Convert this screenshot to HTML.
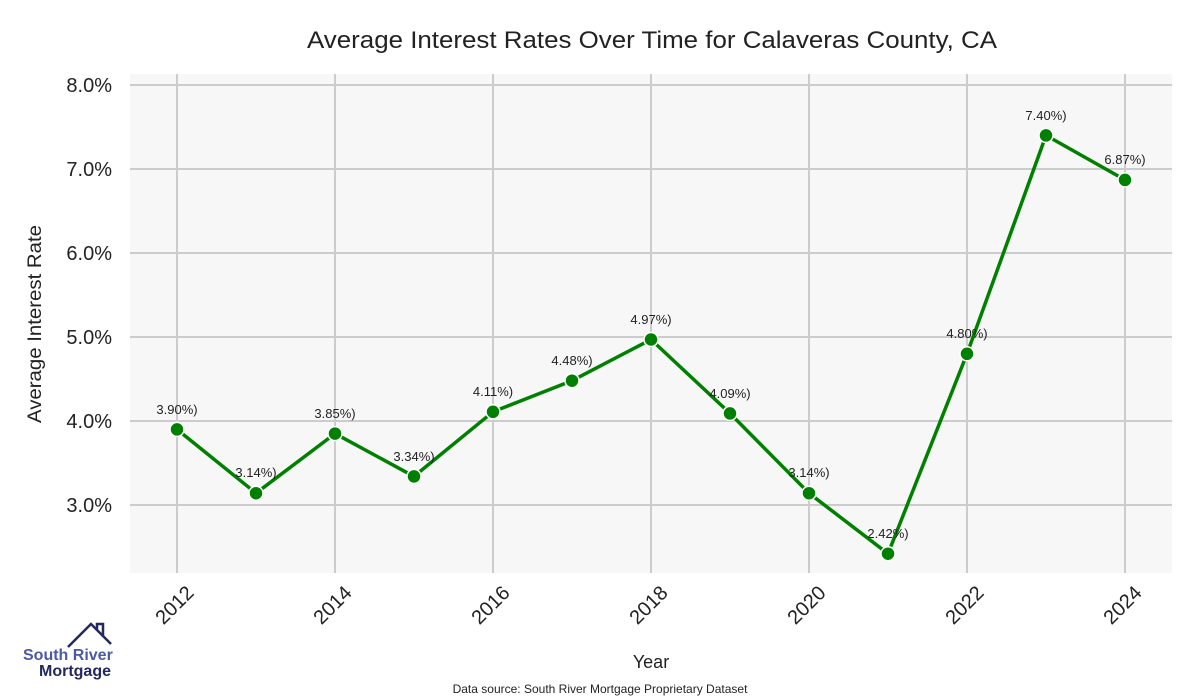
<!DOCTYPE html>
<html><head><meta charset="utf-8"><style>body{margin:0;background:#fff}svg{display:block}</style></head><body>
<svg width="1200" height="700" xmlns="http://www.w3.org/2000/svg" font-family="Liberation Sans, sans-serif">
<rect width="1200" height="700" fill="#fff"/>
<rect x="130" y="74" width="1042" height="499" fill="#f7f7f7"/>
<g stroke="#cccccc" stroke-width="2">
<line x1="130" x2="1172" y1="85" y2="85"/><line x1="130" x2="1172" y1="169" y2="169"/><line x1="130" x2="1172" y1="253" y2="253"/><line x1="130" x2="1172" y1="337" y2="337"/><line x1="130" x2="1172" y1="421" y2="421"/><line x1="130" x2="1172" y1="505" y2="505"/>
<line x1="177" x2="177" y1="74" y2="573"/><line x1="335" x2="335" y1="74" y2="573"/><line x1="493" x2="493" y1="74" y2="573"/><line x1="651" x2="651" y1="74" y2="573"/><line x1="809" x2="809" y1="74" y2="573"/><line x1="967" x2="967" y1="74" y2="573"/><line x1="1125" x2="1125" y1="74" y2="573"/>
</g>
<text x="652" y="48" text-anchor="middle" font-size="24" textLength="690" lengthAdjust="spacingAndGlyphs" fill="#222">Average Interest Rates Over Time for Calaveras County, CA</text>
<g font-size="20" fill="#222" text-anchor="end">
<text x="112" y="92">8.0%</text><text x="112" y="176">7.0%</text><text x="112" y="260">6.0%</text><text x="112" y="344">5.0%</text><text x="112" y="428">4.0%</text><text x="112" y="512">3.0%</text>
</g>
<text transform="translate(41,324) rotate(-90)" text-anchor="middle" font-size="19" textLength="198" lengthAdjust="spacingAndGlyphs" fill="#222">Average Interest Rate</text>
<g font-size="20" fill="#222" text-anchor="end">
<text transform="translate(195,594) rotate(-45)">2012</text>
<text transform="translate(353,594) rotate(-45)">2014</text>
<text transform="translate(511,594) rotate(-45)">2016</text>
<text transform="translate(669,594) rotate(-45)">2018</text>
<text transform="translate(827,594) rotate(-45)">2020</text>
<text transform="translate(985,594) rotate(-45)">2022</text>
<text transform="translate(1143,594) rotate(-45)">2024</text>
</g>
<text x="651" y="668" text-anchor="middle" font-size="18" fill="#222">Year</text>
<text x="600" y="693" text-anchor="middle" font-size="12" fill="#222">Data source: South River Mortgage Proprietary Dataset</text>
<polyline fill="none" stroke="#008000" stroke-width="3.5" stroke-linejoin="round" points="177,429.4 256,493.2 335,433.6 414,476.4 493,411.8 572,380.7 651,339.5 730,413.4 809,493.2 888,553.7 967,353.8 1046,135.4 1125,179.9"/>
<g fill="#008000" stroke="#fff" stroke-width="1.5">
<circle cx="177" cy="429.4" r="7"/><circle cx="256" cy="493.2" r="7"/><circle cx="335" cy="433.6" r="7"/><circle cx="414" cy="476.4" r="7"/><circle cx="493" cy="411.8" r="7"/><circle cx="572" cy="380.7" r="7"/><circle cx="651" cy="339.5" r="7"/><circle cx="730" cy="413.4" r="7"/><circle cx="809" cy="493.2" r="7"/><circle cx="888" cy="553.7" r="7"/><circle cx="967" cy="353.8" r="7"/><circle cx="1046" cy="135.4" r="7"/><circle cx="1125" cy="179.9" r="7"/>
</g>
<g font-size="13" fill="#222" text-anchor="middle">
<text x="177" y="414">3.90%)</text><text x="256" y="477">3.14%)</text><text x="335" y="418">3.85%)</text><text x="414" y="461">3.34%)</text><text x="493" y="396">4.11%)</text><text x="572" y="365">4.48%)</text><text x="651" y="324">4.97%)</text><text x="730" y="398">4.09%)</text><text x="809" y="477">3.14%)</text><text x="888" y="538">2.42%)</text><text x="967" y="338">4.80%)</text><text x="1046" y="120">7.40%)</text><text x="1125" y="164">6.87%)</text>
</g>
<g>
<polyline points="68,647 91,624 111,644" fill="none" stroke="#23295e" stroke-width="2.5"/>
<polyline points="97,630 97,624 103,624 103,637" fill="none" stroke="#23295e" stroke-width="2.5"/>
<text x="23" y="660" font-size="16" font-weight="bold" fill="#4a5aa8">South River</text>
<text x="111" y="676" font-size="16" font-weight="bold" fill="#23295e" text-anchor="end">Mortgage</text>
</g>
</svg>
</body></html>
